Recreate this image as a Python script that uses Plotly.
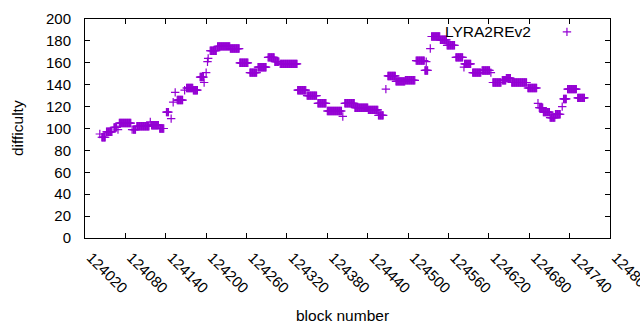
import plotly.graph_objects as go

# Difficulty runs: (first block, last block, difficulty)
run_start = [124042, 124045, 124052, 124063, 124069, 124071, 124090, 124092, 124097, 124117,
             124119, 124131, 124141, 124148, 124151, 124154, 124157, 124168, 124171, 124181,
             124191, 124197, 124200, 124202, 124203, 124206, 124217, 124236, 124250, 124265,
             124277, 124292, 124302, 124310, 124336, 124350, 124366, 124380, 124403, 124406,
             124421, 124441, 124456, 124467, 124470, 124482, 124496, 124512, 124525, 124527,
             124533, 124535, 124548, 124558, 124571, 124583, 124584, 124596, 124610, 124623,
             124626, 124640, 124646, 124654, 124678, 124693, 124695, 124701, 124711, 124719,
             124729, 124731, 124737, 124752]
run_end = [124042, 124050, 124060, 124067, 124069, 124088, 124090, 124095, 124115, 124117,
           124129, 124137, 124144, 124148, 124151, 124154, 124165, 124168, 124180, 124187,
           124196, 124197, 124200, 124202, 124203, 124215, 124235, 124249, 124262, 124275,
           124289, 124301, 124308, 124335, 124348, 124364, 124378, 124401, 124403, 124420,
           124440, 124455, 124463, 124467, 124481, 124495, 124510, 124524, 124529, 124527,
           124533, 124547, 124557, 124569, 124581, 124583, 124593, 124608, 124621, 124623,
           124638, 124645, 124652, 124676, 124691, 124693, 124700, 124710, 124718, 124726,
           124729, 124735, 124750, 124762]
run_diff = [95, 92, 97, 101, 99, 105, 99, 99, 102, 106,
            103, 100, 115, 109, 124, 133, 126, 135, 137, 135,
            147, 142, 151, 161, 164, 171, 175, 173, 160, 151,
            156, 165, 161, 159, 135, 130, 123, 116, 111, 123,
            119, 117, 112, 136, 148, 143, 144, 162, 153, 161,
            173, 184, 181, 176, 165, 156, 159, 151, 153, 151,
            142, 144, 146, 142, 137, 123, 119, 115, 110, 113,
            120, 127, 136, 128]

series_name = "LYRA2REv2"
x_ticks = [124020 + 60 * i for i in range(14)]
y_ticks = [20 * i for i in range(11)]

blocks, diffs = [], []
for s, e, d in zip(run_start, run_end, run_diff):
    for b in range(s, e + 1):
        blocks.append(b)
        diffs.append(d)

purple = "#9400D3"
font = "Liberation Sans, Arial, sans-serif"

fig = go.Figure()
fig.add_trace(go.Scatter(
    x=blocks, y=diffs, mode="markers", name=series_name, showlegend=False,
    marker=dict(symbol="cross-thin", size=6, color=purple,
                line=dict(color=purple, width=1.2)),
))
# legend sample marker (gnuplot style: text then symbol)
fig.add_trace(go.Scatter(
    x=[0.918], y=[0.941], mode="markers", xaxis="x2", yaxis="y2", showlegend=False,
    marker=dict(symbol="cross-thin", size=6, color=purple,
                line=dict(color=purple, width=1.2)),
))

fig.update_layout(
    width=640, height=330,
    margin=dict(l=85, r=30, t=19, b=92),
    paper_bgcolor="white", plot_bgcolor="white",
    font=dict(family=font, size=15, color="black"),
    showlegend=False,
    xaxis=dict(range=[124020, 124800], tickvals=x_ticks, ticktext=[str(v) for v in x_ticks],
               tickangle=45, ticks="inside", ticklen=5, tickcolor="black",
               showline=True, linecolor="black", linewidth=1, mirror="ticks",
               showgrid=False, zeroline=False, automargin=False, ticklabelstandoff=4,
               ticklabelshift=6, ticklabeloverflow="allow"),
    yaxis=dict(range=[0, 200], tickvals=y_ticks, ticks="inside", ticklen=5, tickcolor="black",
               showline=True, linecolor="black", linewidth=1, mirror="ticks",
               showgrid=False, zeroline=False, automargin=False, ticklabelstandoff=10),
    xaxis2=dict(range=[0, 1], overlaying="x", visible=False, anchor="y2"),
    yaxis2=dict(range=[0, 1], overlaying="y", visible=False, anchor="x2"),
    annotations=[
        dict(text="block number", x=0.491, y=-0.352, xref="paper", yref="paper",
             showarrow=False, xanchor="center", yanchor="middle", font=dict(size=15.5)),
        dict(text="difficulty", x=-0.1295, y=0.502, xref="paper", yref="paper",
             showarrow=False, textangle=-90, xanchor="center", yanchor="middle", font=dict(size=15.5)),
        dict(text=series_name, x=0.853, y=0.941, xref="paper", yref="paper",
             showarrow=False, xanchor="right", yanchor="middle", font=dict(size=15.5)),
    ],
)

fig.write_html("out.html", config={"displayModeBar": False},
               post_script="document.body.style.margin='0';document.body.style.overflow='hidden';")
